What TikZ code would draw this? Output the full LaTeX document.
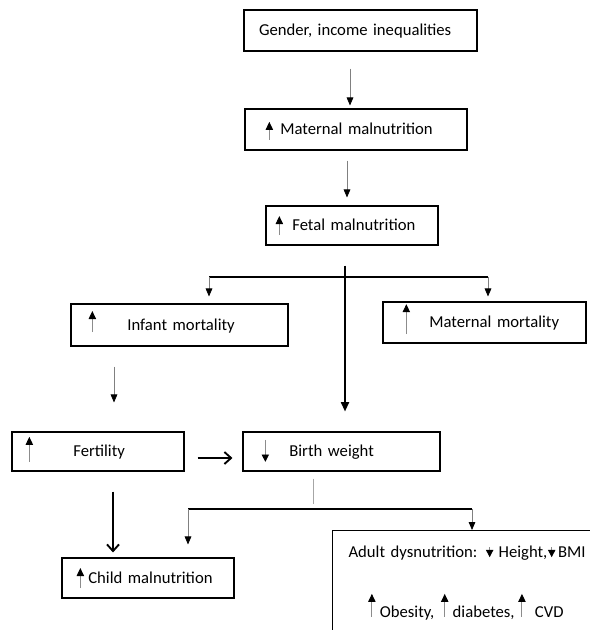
\documentclass[tikz,border=0pt]{standalone}
\usepackage{fontspec}
\setmainfont{Carlito}
\usetikzlibrary{arrows.meta,positioning}
\newcommand{\px}{0.75pt}
% small arrows printed inside the boxes
\newcommand{\UpMark}[2][15pt]{\tikz[baseline=#2]\draw[black!45,line width=0.7pt,-{Triangle[black,length=6pt,width=5.5pt]}] (0,0) -- (0,#1);}
\newcommand{\DownMark}[2][15pt]{\tikz[baseline=#2]\draw[black!45,line width=0.7pt,-{Triangle[black,length=5.5pt,width=5.5pt]}] (0,#1) -- (0,0);}

\begin{document}
\begin{tikzpicture}[
    x=\px,y=-\px,
    box/.style={draw,line width=0.8pt,inner sep=0pt,align=left,text height=10.5pt,text depth=3pt,font=\fontsize{12.5}{15}\selectfont},
    conn/.style={draw=black!50,line width=0.6pt,-{Triangle[black,length=6pt,width=5pt]}},
    trunk/.style={line width=1.4pt,-{Triangle[length=7pt,width=6pt]}},
    bigarr/.style={line width=1.4pt,-{Straight Barb[length=5pt,width=9pt]}},
    bar/.style={line width=1pt}
  ]
  \useasboundingbox (0,0) rectangle (589,630);

  \node[box,text width=233*\px,minimum height=41*\px] (gender) at (360.5,30.5) {\hspace*{11.25pt}Gender, income inequalities};
  \node[box,text width=222*\px,minimum height=41*\px] (matmal) at (356,129.5) {\hspace*{15.5pt}\UpMark[13.5pt]{4pt}\hspace{5.5pt}Maternal malnutrition};
  \node[box,text width=172*\px,minimum height=39*\px] (fetal) at (352,225.5) {\hspace*{7.25pt}\UpMark[14.25pt]{3.4pt}\hspace{7pt}Fetal malnutrition};
  \node[box,text width=217*\px,minimum height=42*\px] (infant) at (179.5,325) {\hspace*{13.25pt}\UpMark[15.75pt]{1.5pt}\hspace{23.5pt}Infant mortality};
  \node[box,text width=203*\px,minimum height=41*\px] (matmort) at (484.5,322.5) {\hspace*{14.75pt}\UpMark[22.5pt]{5pt}\hspace{14.5pt}Maternal mortality};
  \node[box,text width=172*\px,minimum height=39*\px] (fert) at (98,451.5) {\hspace*{10.25pt}\UpMark[18.75pt]{4pt}\hspace{30.25pt}Fertility};
  \node[box,text width=197*\px,minimum height=39*\px] (birth) at (341.5,451.5) {\hspace*{14pt}\DownMark[16.5pt]{4pt}\hspace{15.25pt}Birth weight};
  \node[box,text width=172*\px,minimum height=40*\px] (child) at (148,578) {\hspace*{11pt}\UpMark[15pt]{3.75pt}\hspace{3.25pt}Child malnutrition};
  \node[box,anchor=north west,text width=320*\px,inner xsep=12pt,inner ysep=9.5pt,text depth=70pt] (adult) at (332,530)
    {Adult dysnutrition:\hspace{6.5pt}\DownMark[7.5pt]{0pt}\hspace{4pt}Height,\hspace{0.5pt}\DownMark[7.5pt]{0pt}\hspace{2pt}BMI\\[24pt]
     \hspace*{14.75pt}\UpMark[17pt]{-0.75pt}\hspace{3.25pt}Obesity,\hspace{5pt}\UpMark[17pt]{-0.75pt}\hspace{3.25pt}diabetes,\hspace{2.75pt}\UpMark[17pt]{-0.75pt}\hspace{7pt}CVD};

  \coordinate (lfork) at (209,277);
  \coordinate (rfork) at (488,277);
  \coordinate (lfork2) at (188,509);
  \coordinate (rfork2) at (472,509);

  \draw[conn,shorten <=17*\px,shorten >=3*\px] ([xshift=-10.5*\px]gender.south) -- ([xshift=-6*\px]matmal.north);
  \draw[conn,shorten <=10*\px,shorten >=8*\px] ([xshift=-9*\px]matmal.south) -- ([xshift=-5*\px]fetal.north);
  \draw[trunk,shorten <=20*\px,shorten >=20*\px] ([xshift=-7*\px]fetal.south) -- ([xshift=3.5*\px]birth.north);
  \draw[bar] (lfork) -- (rfork);
  \draw[conn,shorten >=7*\px] (lfork) -- (lfork |- infant.north);
  \draw[conn,shorten >=5*\px] (rfork) -- (rfork |- matmort.north);
  \draw[conn,shorten <=20*\px,shorten >=29*\px] ([xshift=-65.5*\px]infant.south) -- ([xshift=16*\px]fert.north);
  \draw[bigarr,shorten <=13*\px,shorten >=10*\px] ([yshift=-6.5*\px]fert.east) -- ([yshift=-6.5*\px]birth.west);
  \draw[bigarr,shorten <=20*\px,shorten >=5*\px] ([xshift=15*\px]fert.south) -- ([xshift=-35*\px]child.north);
  \draw[black!35,line width=0.6pt,shorten <=7*\px] ([xshift=-28.5*\px]birth.south) -- ++(0,32);
  \draw[bar] (lfork2) -- (rfork2);
  \draw[conn,shorten >=13*\px] (lfork2) -- (lfork2 |- child.north);
  \draw[conn] (rfork2) -- (rfork2 |- adult.north);
\end{tikzpicture}
\end{document}
